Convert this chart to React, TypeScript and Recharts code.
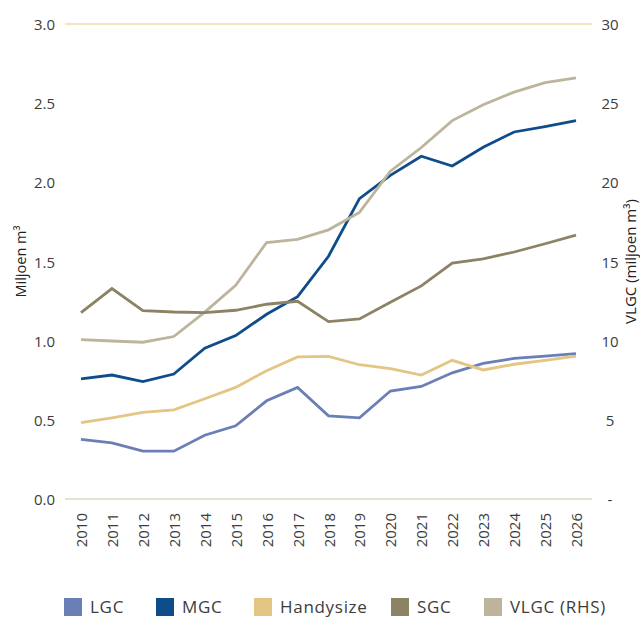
import React from 'react';
import { LineChart, Line, XAxis, YAxis, CartesianGrid, Legend } from 'recharts';

const years = ['2010','2011','2012','2013','2014','2015','2016','2017','2018','2019','2020','2021','2022','2023','2024','2025','2026'];
const lgc = [0.376,0.354,0.302,0.302,0.403,0.462,0.62,0.705,0.525,0.513,0.682,0.711,0.797,0.857,0.888,0.903,0.918];
const mgc = [0.759,0.783,0.741,0.789,0.952,1.032,1.167,1.278,1.533,1.897,2.044,2.165,2.103,2.221,2.318,2.352,2.39];
const handysize = [0.483,0.513,0.547,0.563,0.633,0.705,0.81,0.897,0.901,0.848,0.823,0.783,0.876,0.815,0.851,0.876,0.903];
const sgc = [1.177,1.329,1.19,1.181,1.177,1.192,1.23,1.249,1.12,1.137,1.243,1.346,1.49,1.517,1.56,1.612,1.667];
const vlgc = [10.06,9.98,9.9,10.26,11.8,13.5,16.2,16.4,17.0,18.1,20.7,22.2,23.9,24.9,25.7,26.3,26.6];

const leftTicks = [0, 0.5, 1, 1.5, 2, 2.5, 3];
const rightTicks = [0, 5, 10, 15, 20, 25, 30];

const legendItems = [
  { name: 'LGC', color: '#6a7fb6', w: 92 },
  { name: 'MGC', color: '#0e4c8a', w: 98 },
  { name: 'Handysize', color: '#e3c584', w: 137 },
  { name: 'SGC', color: '#8c8264', w: 93 },
  { name: 'VLGC (RHS)', color: '#bdb49c', w: 140 },
];

const data = years.map((y, i) => ({
  year: y,
  LGC: lgc[i],
  MGC: mgc[i],
  Handysize: handysize[i],
  SGC: sgc[i],
  VLGC: vlgc[i],
}));

const FONT = '"Open Sans", "Noto Sans", sans-serif';
const TEXT = '#3c3c3c';

const XTick = (props: any) => {
  const { x, y, payload } = props;
  return (
    <text
      transform={`translate(${x},${y + 14}) rotate(-90)`}
      textAnchor="end"
      dominantBaseline="central"
      fontSize={15}
      fontFamily={FONT}
      fill={TEXT}
    >
      {payload.value}
    </text>
  );
};

const RightTick = (props: any) => {
  const { x, y, payload } = props;
  return (
    <text x={x + 18} y={y} textAnchor="middle" dominantBaseline="central" fontSize={15} fontFamily={FONT} fill={TEXT}>
      {payload.value === 0 ? '-' : String(payload.value)}
    </text>
  );
};

const LeftTick = (props: any) => {
  const { x, y, payload } = props;
  return (
    <text x={x} y={y} textAnchor="end" dominantBaseline="central" fontSize={15} fontFamily={FONT} fill={TEXT}>
      {Number(payload.value).toFixed(1)}
    </text>
  );
};

const LeftLabel = (props: any) => {
  const vb = props.viewBox || {};
  const cx = vb.x + 20;
  const cy = vb.y + vb.height / 2;
  return (
    <text transform={`translate(${cx},${cy}) rotate(-90)`} textAnchor="middle" dominantBaseline="central" fontSize={14.5} fontFamily={FONT} fill="#222">
      Miljoen m³
    </text>
  );
};

const RightLabel = (props: any) => {
  const vb = props.viewBox || {};
  const cx = vb.x + 38;
  const cy = vb.y + vb.height / 2;
  return (
    <text transform={`translate(${cx},${cy}) rotate(-90)`} textAnchor="middle" dominantBaseline="central" fontSize={15} fontFamily={FONT} fill="#222">
      VLGC (miljoen m³)
    </text>
  );
};

const renderLegend = () => (
  <div style={{ width: 640, height: 30, display: 'flex', alignItems: 'center', paddingLeft: 64, paddingTop: 6, boxSizing: 'border-box', fontFamily: FONT }}>
    {legendItems.map((it) => (
      <div key={it.name} style={{ display: 'flex', alignItems: 'center', width: it.w, height: 22, flex: 'none', whiteSpace: 'nowrap' }}>
        <span style={{ width: 18, height: 18, background: it.color, display: 'inline-block', marginRight: 8, flex: 'none' }} />
        <span style={{ fontSize: 17, color: TEXT, lineHeight: '22px', letterSpacing: 0.7 }}>{it.name}</span>
      </div>
    ))}
  </div>
);

export default function App() {
  return (
    <div style={{ position: 'absolute', left: 0, top: 0, width: 640, height: 619, background: '#fff' }}>
      <LineChart width={640} height={619} data={data} margin={{ top: 24, right: 0, bottom: 0, left: 0 }}>
        <CartesianGrid horizontal vertical={false} stroke="#f0dcaa" strokeWidth={1.4} />
        <XAxis
          dataKey="year"
          height={90}
          interval={0}
          padding={{ left: 16, right: 16 }}
          tickLine={false}
          tickSize={0}
          tickMargin={0}
          axisLine={{ stroke: '#e1e1e1', strokeWidth: 1.5 }}
          tick={<XTick />}
        />
        <YAxis
          yAxisId="left"
          width={65}
          domain={[0, 3]}
          ticks={leftTicks}
          tickLine={false}
          tickSize={0}
          tickMargin={10}
          axisLine={false}
          tick={<LeftTick />}
          label={<LeftLabel />}
        />
        <YAxis
          yAxisId="right"
          orientation="right"
          width={48}
          domain={[0, 30]}
          ticks={rightTicks}
          tickLine={false}
          tickSize={0}
          tickMargin={0}
          axisLine={false}
          tick={<RightTick />}
          label={<RightLabel />}
        />
        <Legend verticalAlign="bottom" align="left" wrapperStyle={{ left: 0, width: 640, height: 30 }} content={renderLegend} />
        <Line yAxisId="left" dataKey="LGC" stroke="#6a7fb6" strokeWidth={2.8} dot={false} isAnimationActive={false} />
        <Line yAxisId="left" dataKey="MGC" stroke="#0e4c8a" strokeWidth={2.8} dot={false} isAnimationActive={false} />
        <Line yAxisId="left" dataKey="Handysize" stroke="#e3c584" strokeWidth={2.8} dot={false} isAnimationActive={false} />
        <Line yAxisId="right" dataKey="VLGC" stroke="#bdb49c" strokeWidth={2.8} dot={false} isAnimationActive={false} />
        <Line yAxisId="left" dataKey="SGC" stroke="#8c8264" strokeWidth={2.8} dot={false} isAnimationActive={false} />
      </LineChart>
    </div>
  );
}
